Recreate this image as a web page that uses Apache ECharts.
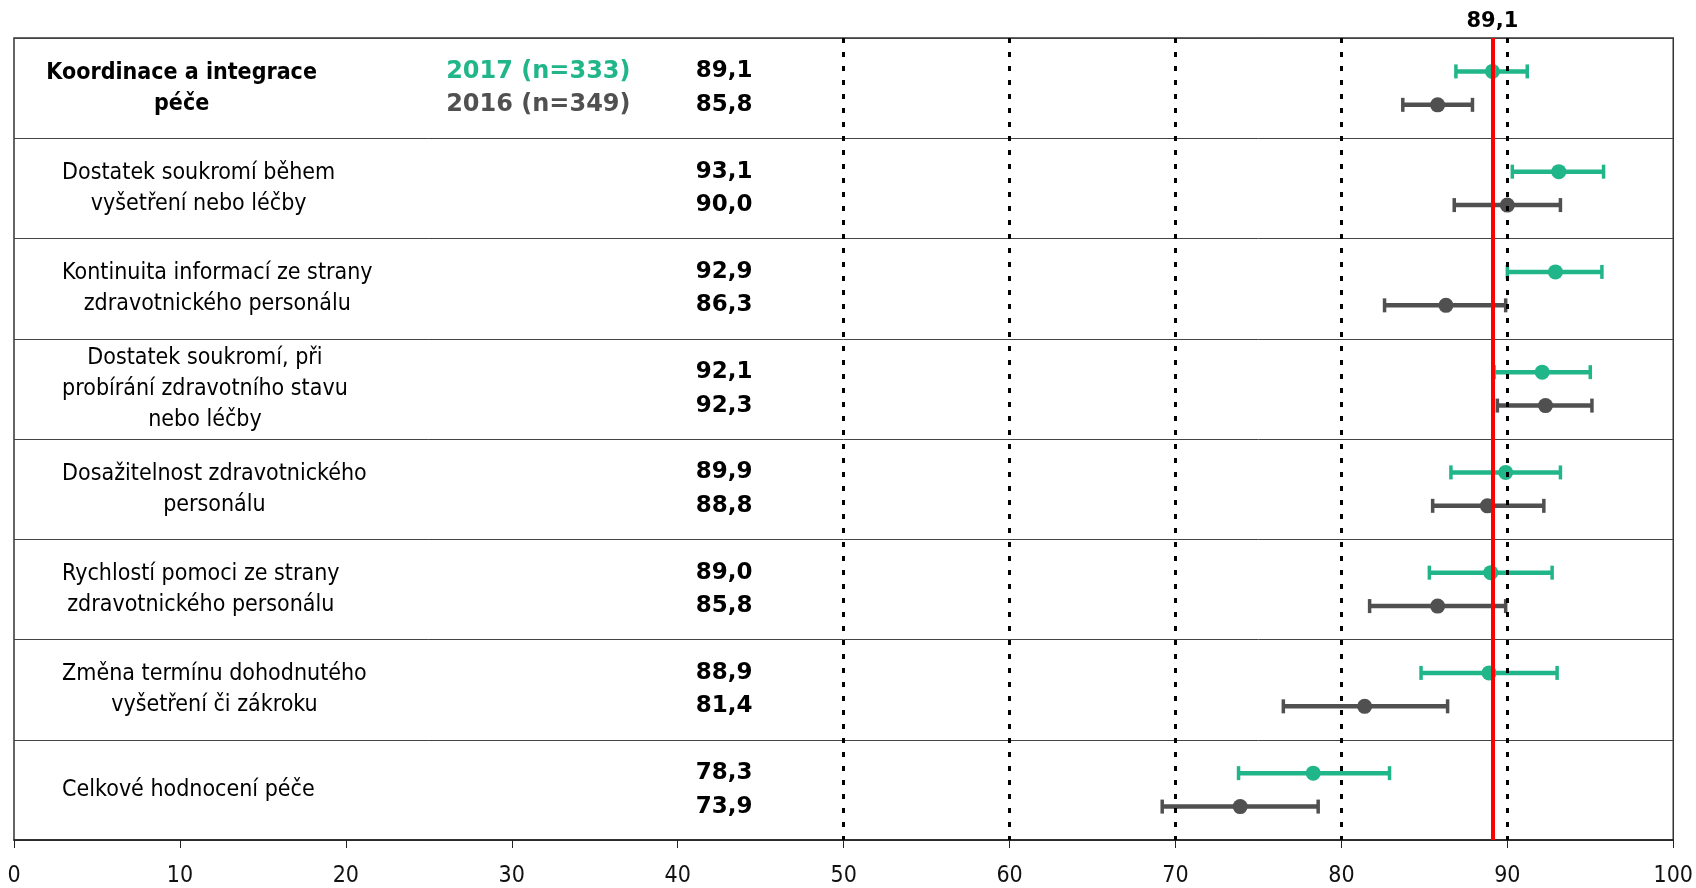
<!DOCTYPE html>
<html>
<head>
<meta charset="utf-8">
<script src="https://cdn.jsdelivr.net/npm/echarts@6/dist/echarts.min.js"></script>
<style>
html, body { margin: 0; padding: 0; background: #fff; }
#chart { width: 1696px; height: 888px; }
</style>
</head>
<body>
<div id="chart"></div>
<script>
// řádky grafu
var categories = [
  "Koordinace a integrace\npéče",
  "Dostatek soukromí během\nvyšetření nebo léčby",
  "Kontinuita informací ze strany\nzdravotnického personálu",
  "Dostatek soukromí, při\nprobírání zdravotního stavu\nnebo léčby",
  "Dosažitelnost zdravotnického\npersonálu",
  "Rychlostí pomoci ze strany\nzdravotnického personálu",
  "Změna termínu dohodnutého\nvyšetření či zákroku",
  "Celkové hodnocení péče"
];
// 2017
var values2017 = [89.1, 93.1, 92.9, 92.1, 89.9, 89.0, 88.9, 78.3];
var low2017 = [86.9, 90.3, 90.0, 89.2, 86.6, 85.3, 84.8, 73.8];
var high2017 = [91.2, 95.8, 95.7, 95.0, 93.2, 92.7, 93.0, 82.9];
// 2016
var values2016 = [85.8, 90.0, 86.3, 92.3, 88.8, 85.8, 81.4, 73.9];
var low2016 = [83.7, 86.8, 82.6, 89.4, 85.5, 81.7, 76.5, 69.2];
var high2016 = [87.9, 93.2, 89.9, 95.1, 92.2, 89.9, 86.4, 78.6];

var legend2017 = "2017 (n=333)";
var legend2016 = "2016 (n=349)";
var average2017 = 89.1;
var guideLines = [50, 60, 70, 80, 90];

var GREEN = "#21b68a";
var GREY = "#505050";
var FONT = '"DejaVu Sans Condensed", "DejaVu Sans", sans-serif';
var FONT_WIDE = '"DejaVu Sans", sans-serif';

function fmt(v) {
  return v.toFixed(1).replace(".", ",");
}

var measureCtx = document.createElement("canvas").getContext("2d");
function blockWidth(text, font) {
  measureCtx.font = font;
  var w = 0;
  text.split("\n").forEach(function (line) {
    w = Math.max(w, measureCtx.measureText(line).width);
  });
  return w;
}

function errorBar(color) {
  return function (params, api) {
    var y = api.value(3);
    var p = api.coord([api.value(0), y]);
    var lo = api.coord([api.value(1), y]);
    var hi = api.coord([api.value(2), y]);
    var cap = 7;
    return {
      type: "group",
      children: [
        { type: "line", shape: { x1: lo[0], y1: p[1], x2: hi[0], y2: p[1] }, style: { stroke: color, lineWidth: 4.5 } },
        { type: "line", shape: { x1: lo[0], y1: p[1] - cap, x2: lo[0], y2: p[1] + cap }, style: { stroke: color, lineWidth: 3.5 } },
        { type: "line", shape: { x1: hi[0], y1: p[1] - cap, x2: hi[0], y2: p[1] + cap }, style: { stroke: color, lineWidth: 3.5 } },
        { type: "circle", shape: { cx: p[0], cy: p[1], r: 7.5 }, style: { fill: color } }
      ]
    };
  };
}

function labelItem(params, api) {
  var i = params.dataIndex;
  var text = categories[i];
  var header = i === 0;
  var font = (header ? "bold " : "") + "23px " + FONT;
  var start = api.coord([header ? 1.95 : 2.9, 3 * i + 1.5]);
  var w = blockWidth(text, font);
  var valFont = "bold 23px " + FONT_WIDE;
  var valPos1 = api.coord([42.8, 3 * i + 1]);
  var valPos2 = api.coord([42.8, 3 * i + 2]);
  var children = [
    {
      type: "text",
      x: start[0] + w / 2, y: start[1],
      style: {
        text: text, font: font, fill: "#000",
        align: "center", verticalAlign: "middle", lineHeight: 31
      }
    },
    {
      type: "text", x: valPos1[0], y: valPos1[1],
      style: { text: fmt(values2017[i]), font: valFont, fill: "#000", align: "center", verticalAlign: "middle" }
    },
    {
      type: "text", x: valPos2[0], y: valPos2[1],
      style: { text: fmt(values2016[i]), font: valFont, fill: "#000", align: "center", verticalAlign: "middle" }
    }
  ];
  if (header) {
    var legFont = "bold 24px " + FONT_WIDE;
    var l1 = api.coord([31.6, 1]);
    var l2 = api.coord([31.6, 2]);
    children.push(
      { type: "text", x: l1[0], y: l1[1], style: { text: legend2017, font: legFont, fill: GREEN, align: "center", verticalAlign: "middle" } },
      { type: "text", x: l2[0], y: l2[1], style: { text: legend2016, font: legFont, fill: GREY, align: "center", verticalAlign: "middle" } }
    );
  }
  return { type: "group", children: children };
}

var chart = echarts.init(document.getElementById("chart"), null, { renderer: "canvas" });
chart.setOption({
  animation: false,
  backgroundColor: "#fff",
  grid: {
    left: 14, right: 21, top: 38, bottom: 48,
    show: true, borderColor: "#333", borderWidth: 1.5
  },
  xAxis: {
    type: "value",
    position: "bottom",
    min: 0, max: 100, interval: 10,
    axisLine: { show: true, onZero: false, lineStyle: { color: "#222", width: 1.5 } },
    axisTick: { show: true, length: 8, lineStyle: { color: "#222", width: 1 } },
    axisLabel: { fontSize: 23, fontFamily: FONT, color: "#111", margin: 25 },
    splitLine: { show: false }
  },
  yAxis: {
    type: "value",
    min: 0, max: 24, interval: 3,
    inverse: true,
    axisLine: { show: false },
    axisTick: { show: false },
    axisLabel: { show: false },
    splitLine: { show: true, lineStyle: { color: "#444", width: 1 } }
  },
  series: [
    {
      type: "line",
      data: [],
      z: 1,
      markLine: {
        silent: true,
        symbol: "none",
        label: { show: false },
        lineStyle: { color: "#000", width: 3, type: [5, 9] },
        data: guideLines.map(function (v) { return { xAxis: v }; })
      }
    },
    {
      name: "2017",
      type: "custom",
      z: 3,
      renderItem: errorBar(GREEN),
      encode: { x: [0, 1, 2], y: 3 },
      data: values2017.map(function (v, i) { return [v, low2017[i], high2017[i], 3 * i + 1]; })
    },
    {
      name: "2016",
      type: "custom",
      z: 3,
      renderItem: errorBar(GREY),
      encode: { x: [0, 1, 2], y: 3 },
      data: values2016.map(function (v, i) { return [v, low2016[i], high2016[i], 3 * i + 2]; })
    },
    {
      type: "custom",
      z: 4,
      renderItem: labelItem,
      data: categories.map(function (c, i) { return [i]; })
    },
    {
      type: "line",
      data: [],
      z: 10,
      markLine: {
        silent: true,
        symbol: "none",
        lineStyle: { color: "#ff0000", width: 4, type: "solid" },
        label: {
          show: true, position: "start", distance: 6,
          formatter: fmt(average2017),
          fontFamily: FONT_WIDE, fontSize: 21, fontWeight: "bold", color: "#000"
        },
        data: [{ xAxis: average2017 }]
      }
    }
  ]
});
</script>
</body>
</html>
